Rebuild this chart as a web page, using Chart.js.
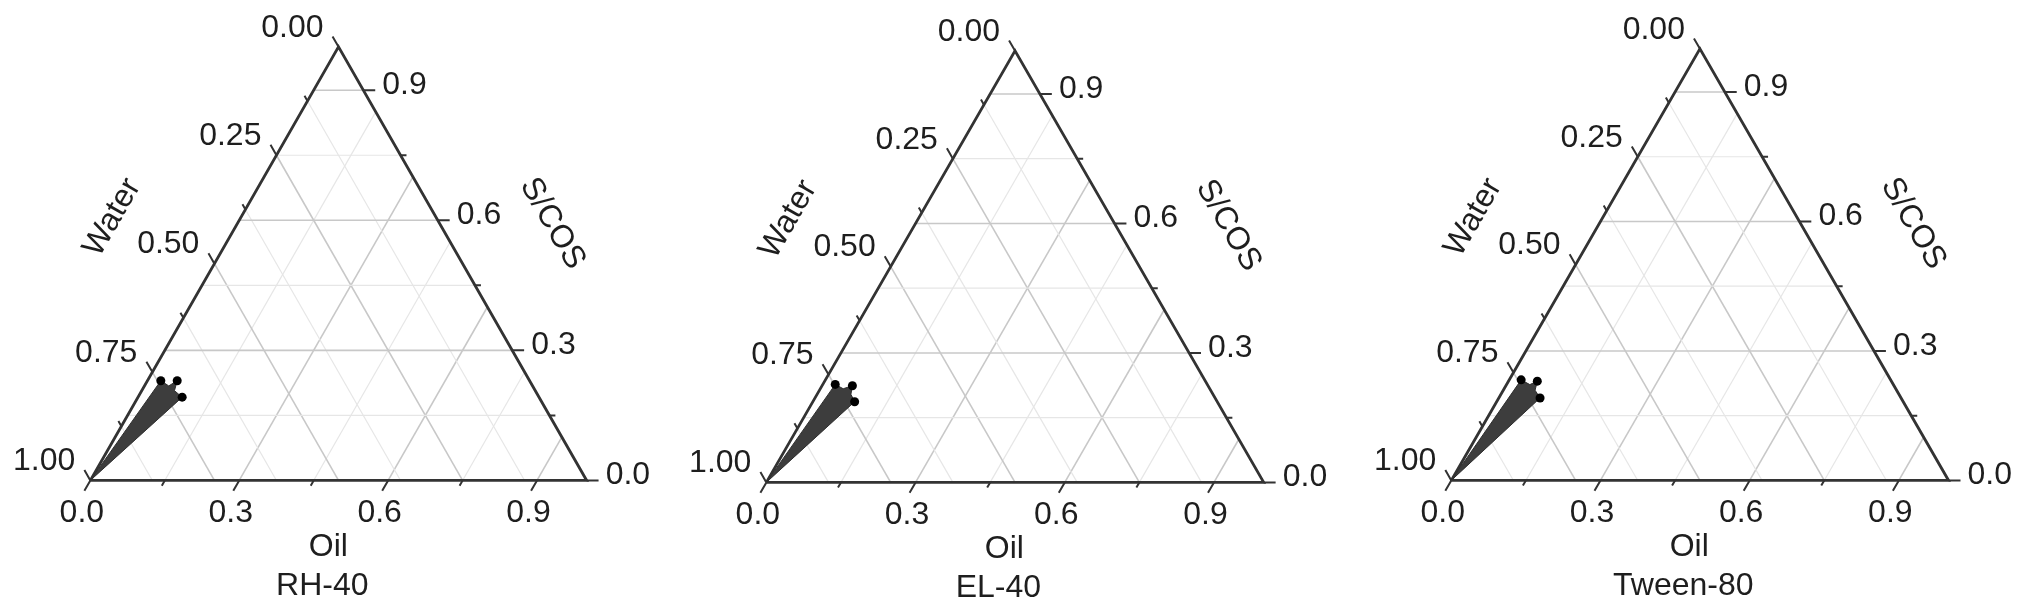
<!DOCTYPE html>
<html>
<head>
<meta charset="utf-8">
<script src="https://cdn.jsdelivr.net/npm/chart.js@4.4.0/dist/chart.umd.min.js"></script>
<style>
    html, body { margin: 0; padding: 0; background: #fff; }
    #wrap { position: relative; width: 2032px; height: 615px; overflow: hidden; }
    .panel { position: absolute; top: 0; }
</style>
</head>
<body>
<div id="wrap">
    <div class="panel" style="left:0px"><canvas id="c0" width="677" height="615"></canvas></div>
    <div class="panel" style="left:677px"><canvas id="c1" width="680" height="615"></canvas></div>
    <div class="panel" style="left:1357px"><canvas id="c2" width="675" height="615"></canvas></div>
</div>
<script>
// surfactant names (one diagram each)
const surfactants = ['RH-40', 'EL-40', 'Tween-80'];

// axis ticks and labelled values
const oilTicks = [0, 0.15, 0.3, 0.45, 0.6, 0.75, 0.9];
const oilLabelValues = [0, 0.3, 0.6, 0.9];
const waterTicks = [0, 0.125, 0.25, 0.375, 0.5, 0.625, 0.75, 0.875, 1];
const waterLabelValues = [0, 0.25, 0.5, 0.75, 1];
const scosTicks = [0, 0.15, 0.3, 0.45, 0.6, 0.75, 0.9];
const scosLabelValues = [0, 0.3, 0.6, 0.9];

// grid lines
const oilGrid = [0.15, 0.3, 0.45, 0.6, 0.75, 0.9];
const waterGrid = [0.125, 0.25, 0.375, 0.5, 0.625, 0.75, 0.875];
const scosGrid = [0.15, 0.3, 0.45, 0.6, 0.75, 0.9];

// microemulsion region boundary (water, oil, S/COS), 1 = measured point
const rh40Water = [1, 0.743, 0.733, 0.710, 0.727, 0.719];
const rh40Oil   = [0, 0.027, 0.049, 0.060, 0.066, 0.089];
const rh40Scos  = [0, 0.230, 0.218, 0.230, 0.207, 0.192];

const el40Water = [1, 0.748, 0.737, 0.715, 0.728, 0.729];
const el40Oil   = [0, 0.025, 0.046, 0.061, 0.068, 0.084];
const el40Scos  = [0, 0.227, 0.217, 0.224, 0.204, 0.187];

const tween80Water = [1, 0.743, 0.731, 0.712, 0.727, 0.726];
const tween80Oil   = [0, 0.024, 0.047, 0.058, 0.064, 0.083];
const tween80Scos  = [0, 0.233, 0.222, 0.230, 0.209, 0.191];

const measuredFlags = [0, 1, 0, 1, 0, 1];

const regions = [
    { water: rh40Water, oil: rh40Oil, scos: rh40Scos },
    { water: el40Water, oil: el40Oil, scos: el40Scos },
    { water: tween80Water, oil: tween80Oil, scos: tween80Scos }
];

// panel layout in pixels
const panels = [
    { left: 0, width: 677, blX: 87, blY: 483, side: 503, height: 440 },
    { left: 677, width: 680, blX: 763, blY: 485, side: 504, height: 438 },
    { left: 1357, width: 675, blX: 1448, blY: 483, side: 504, height: 438 }
];

// ternary (oil, scos) -> cartesian; water = 1 - oil - scos
function tern(oil, scos) {
    return { x: oil + scos / 2, y: scos };
}

function lineSet(points, color, width) {
    return {
        type: 'scatter',
        data: points,
        showLine: true,
        borderColor: color,
        borderWidth: width,
        pointRadius: 0,
        fill: false,
        order: 5
    };
}

function buildDatasets(region) {
    const sets = [];

    // measured points
    const dots = [];
    region.oil.forEach((o, i) => {
        if (measuredFlags[i]) dots.push(tern(o, region.scos[i]));
    });
    sets.push({
        data: dots,
        pointRadius: 4.5,
        pointBackgroundColor: '#000',
        pointBorderWidth: 0,
        showLine: false,
        order: 0
    });

    // shaded region
    const shape = region.oil.map((o, i) => tern(o, region.scos[i]));
    shape.push(shape[0]);
    sets.push({
        data: shape,
        showLine: true,
        fill: 'shape',
        backgroundColor: '#3d3d3d',
        borderColor: '#2e2e2e',
        borderWidth: 1,
        pointRadius: 0,
        order: 1
    });

    // triangle outline
    const outline = lineSet([tern(0, 0), tern(1, 0), tern(0, 1), tern(0, 0)], '#333', 2.8);
    outline.order = 2;
    sets.push(outline);

    // ticks
    const tickPts = [];
    const ext = (major) => major ? 0.024 : 0.012;
    oilTicks.forEach(o => {
        const t = ext(oilLabelValues.includes(o));
        tickPts.push(tern(o, 0), tern(o, -t), { x: null, y: null });
    });
    waterTicks.forEach(w => {
        const t = ext(waterLabelValues.includes(w));
        tickPts.push(tern(0, 1 - w), tern(-t, 1 - w + t), { x: null, y: null });
    });
    scosTicks.forEach(s => {
        const t = ext(scosLabelValues.includes(s));
        tickPts.push(tern(1 - s, s), tern(1 - s + t, s), { x: null, y: null });
    });
    const ticks = lineSet(tickPts, '#333', 2);
    ticks.order = 3;
    ticks.spanGaps = false;
    sets.push(ticks);

    // grid lines
    scosGrid.forEach(s => {
        const major = scosLabelValues.includes(s);
        sets.push(lineSet([tern(0, s), tern(1 - s, s)], major ? '#c8c8c8' : '#e6e6e6', major ? 1.6 : 1.2));
    });
    waterGrid.forEach(w => {
        const major = waterLabelValues.includes(w);
        sets.push(lineSet([tern(0, 1 - w), tern(1 - w, 0)], major ? '#c8c8c8' : '#e6e6e6', major ? 1.6 : 1.2));
    });
    oilGrid.forEach(o => {
        const major = oilLabelValues.includes(o);
        sets.push(lineSet([tern(o, 0), tern(o, 1 - o)], major ? '#c8c8c8' : '#e6e6e6', major ? 1.6 : 1.2));
    });

    return sets;
}

// tick labels and axis titles
const ternaryText = {
    id: 'ternaryText',
    afterDatasetsDraw(chart, args, opts) {
        const ctx = chart.ctx;
        const xs = chart.scales.x, ys = chart.scales.y;
        const px = (o, s) => [xs.getPixelForValue(o + s / 2), ys.getPixelForValue(s)];
        ctx.save();
        ctx.fillStyle = '#1e1e1e';
        ctx.font = '32px "Liberation Sans", Arial, sans-serif';
        ctx.textBaseline = 'middle';

        ctx.textAlign = 'right';
        waterLabelValues.forEach(w => {
            const [ex, ey] = px(0, 1 - w);
            ctx.fillText(w.toFixed(2), ex - 15, ey - 19);
        });

        ctx.textAlign = 'left';
        scosLabelValues.forEach(s => {
            const [ex, ey] = px(1 - s, s);
            ctx.fillText(s.toFixed(1), ex + 19, ey - 5);
        });

        ctx.textAlign = 'center';
        oilLabelValues.forEach(o => {
            const [ex, ey] = px(o, 0);
            ctx.fillText(o.toFixed(1), ex - 8.5, ey + 33);
        });

        const [bx, by] = px(0, 0);
        ctx.fillText('Oil', bx + 238, by + 67);
        ctx.fillText(opts.name, bx + 232, by + 106);

        ctx.save();
        ctx.translate(bx + 22, by - 263);
        ctx.rotate(-Math.PI / 3);
        ctx.fillText('Water', 0, 0);
        ctx.restore();

        ctx.save();
        ctx.translate(bx + 462, by - 257);
        ctx.rotate(Math.PI / 3);
        ctx.fillText('S/COS', 0, 0);
        ctx.restore();

        ctx.restore();
    }
};

panels.forEach((p, i) => {
    const ctx = document.getElementById('c' + i).getContext('2d');
    new Chart(ctx, {
        type: 'scatter',
        data: { datasets: buildDatasets(regions[i]) },
        options: {
            responsive: false,
            devicePixelRatio: 1,
            animation: false,
            events: [],
            layout: { padding: 0 },
            scales: {
                x: {
                    type: 'linear', display: false,
                    min: -(p.blX - p.left) / p.side,
                    max: (p.left + p.width - p.blX) / p.side
                },
                y: {
                    type: 'linear', display: false,
                    min: -(615 - p.blY) / p.height,
                    max: p.blY / p.height
                }
            },
            plugins: {
                legend: { display: false },
                tooltip: { enabled: false },
                ternaryText: { name: surfactants[i] }
            }
        },
        plugins: [ternaryText]
    });
});
</script>
</body>
</html>
